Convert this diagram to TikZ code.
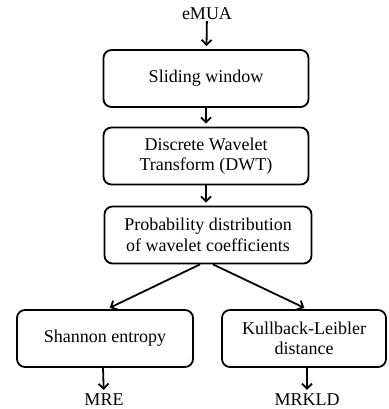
\documentclass[tikz,border=0pt]{standalone}
\usepackage{fontspec}
\setmainfont{Liberation Serif}
\usepackage{tikz}
\usetikzlibrary{arrows.meta,positioning,calc}
\def\BoxWidth{205pt}
\def\BoxHeight{57pt}

\begin{document}
\begin{tikzpicture}[x=1pt,y=-1pt,
    font=\fontsize{18}{20.5}\selectfont,
    block/.style={draw,line width=1.8pt,rounded corners=8pt,align=center,
      minimum width=\BoxWidth,minimum height=\BoxHeight,inner sep=2pt},
    label/.style={inner sep=1pt},
    flow/.style={line width=1.8pt,-{Straight Barb[length=5pt,width=10pt,line width=1.8pt]},shorten >=3pt}]
  \useasboundingbox (0,0) rectangle (388,409);
  \node[label] (emua) at (207,14) {eMUA};
  \node[block] (slide) at (206,78.5) {Sliding window};
  \node[block] (dwt) at (206,156) {Discrete Wavelet\\Transform (DWT)};
  \node[block,minimum width=207pt] (prob) at (208,235) {Probability distribution\\of wavelet coefficients};
  \node[block,minimum width=176pt] (shannon) at (105,338.5) {Shannon entropy};
  \node[block,minimum width=164pt] (kld) at (304,338.5) {Kullback-Leibler\\distance};
  \node[label] (mre) at (104,400) {MRE};
  \node[label] (mrkld) at (307,400) {MRKLD};
  % main chain
  \draw[flow] (emua) -- (slide);
  \draw[flow] (slide) -- (dwt);
  \draw[flow] (dwt) -- ([xshift=-2pt]prob.north);
  % split
  \draw[flow] ([xshift=-8pt]prob.south) -- ([xshift=2pt]shannon.north);
  \draw[flow] ([xshift=5pt]prob.south) -- ([xshift=3pt]kld.north);
  \draw[flow] ([xshift=-2pt]shannon.south) -- (mre);
  \draw[flow] ([xshift=3pt]kld.south) -- (mrkld);
\end{tikzpicture}
\end{document}
